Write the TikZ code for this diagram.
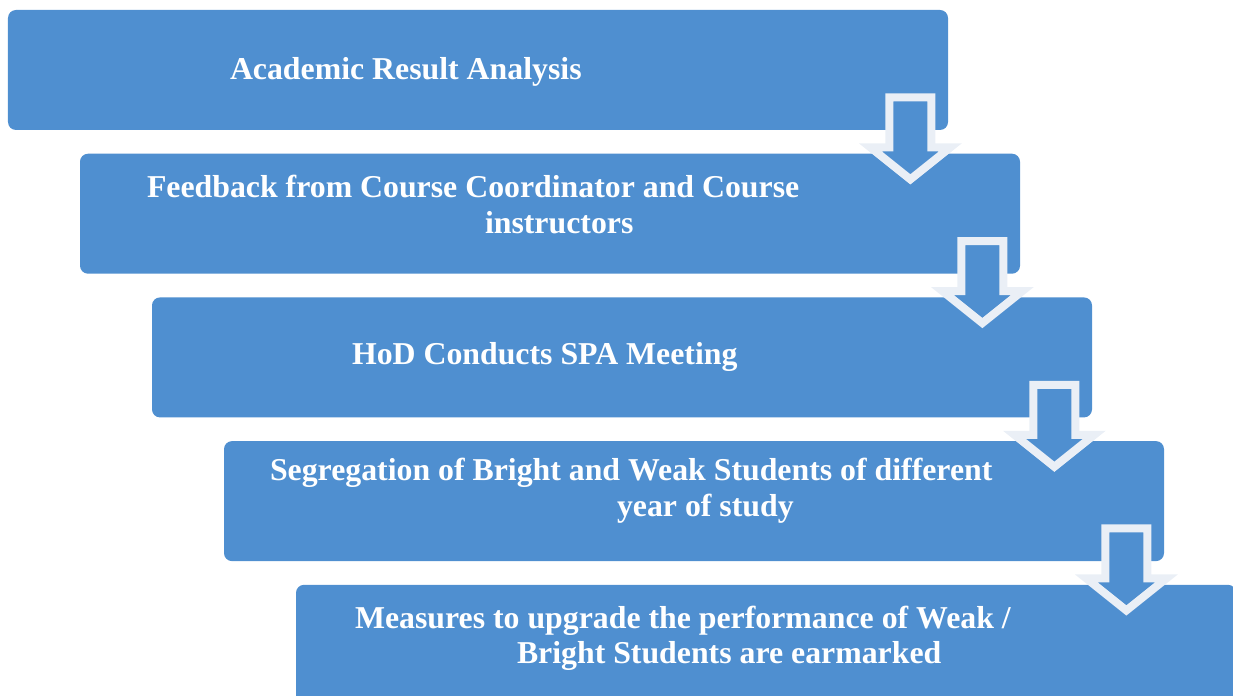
\documentclass[tikz,border=0pt]{standalone}
\usepackage{fontspec}
\setmainfont{Liberation Serif}
\usetikzlibrary{positioning, calc}
\definecolor{boxblue}{RGB}{79,143,208}
\definecolor{rimwhite}{RGB}{234,239,246}

\begin{document}
\begin{tikzpicture}[
  stage/.style={rectangle, rounded corners=0.16cm, fill=boxblue, minimum width=18.8cm, minimum height=2.4cm, inner sep=0pt},
  caption/.style={inner sep=0pt, align=left, text=white, font=\fontsize{18.1}{20.3}\selectfont\bfseries},
  flow/.style={fill=boxblue, draw=rimwhite, line width=0.16cm, line join=miter},
  downarrow/.pic={\draw[flow] (-0.42,0) -- (0.42,0) -- (0.42,-1.0) -- (0.80,-1.0) -- (0,-1.64) -- (-0.80,-1.0) -- (-0.42,-1.0) -- cycle;}
]
  \clip (0,0) rectangle (24.66,-13.92);

  \node[stage] (b1) at (9.56,-1.40) {};
  \node[stage, below=0.46cm of b1, xshift=1.44cm] (b2) {};
  \node[stage, below=0.46cm of b2, xshift=1.44cm] (b3) {};
  \node[stage, below=0.46cm of b3, xshift=1.44cm] (b4) {};
  \node[stage, below=0.46cm of b4, xshift=1.44cm] (b5) {};

  % arrows between the stages
  \pic (a1) at ($(b1.south east)+(-0.76,0.66)$) {downarrow};
  \pic (a2) at ($(b2.south east)+(-0.76,0.66)$) {downarrow};
  \pic (a3) at ($(b3.south east)+(-0.76,0.66)$) {downarrow};
  \pic (a4) at ($(b4.south east)+(-0.76,0.66)$) {downarrow};

  \node[caption, right=4.44cm of b1.west, yshift=-0.04cm] (t1) {Academic Result Analysis};
  \node[caption, right=1.34cm of b2.west, yshift=0.19cm] (t2) {Feedback from Course Coordinator and Course\\\hspace*{6.76cm}instructors};
  \node[caption, right=4.0cm of b3.west] (t3) {HoD Conducts SPA Meeting};
  \node[caption, right=0.92cm of b4.west, yshift=0.21cm] (t4) {Segregation of Bright and Weak Students of different\\\hspace*{6.94cm}year of study};
  \node[caption, right=1.18cm of b5.west, yshift=0.13cm] (t5) {Measures to upgrade the performance of Weak /\\\hspace*{3.24cm}Bright Students are earmarked};
\end{tikzpicture}
\end{document}
